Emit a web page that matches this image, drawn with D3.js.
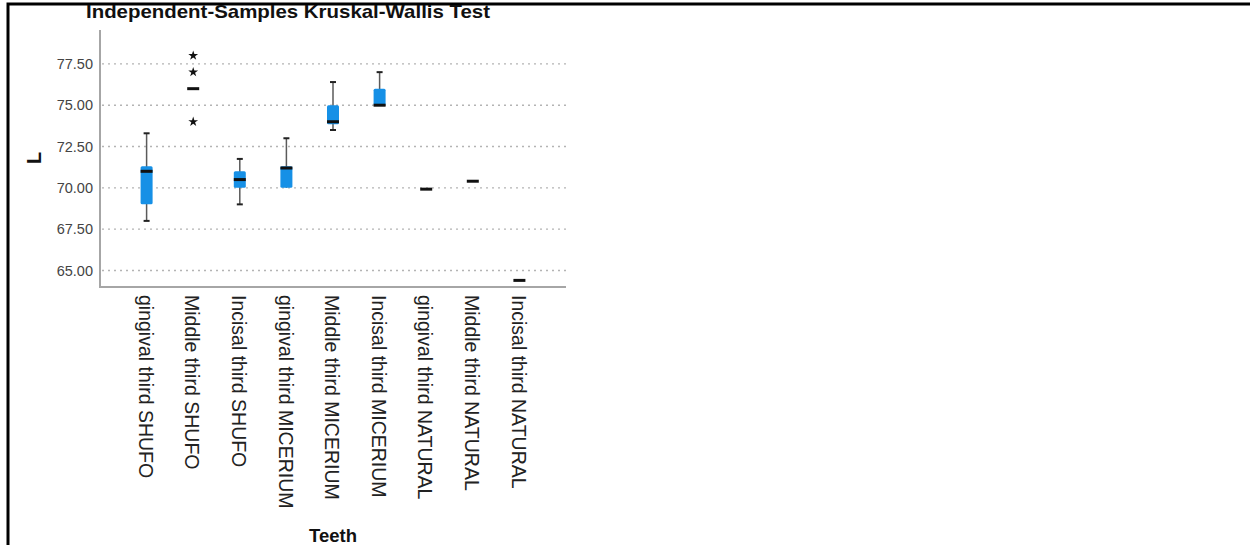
<!DOCTYPE html>
<html>
<head>
<meta charset="utf-8">
<script src="https://cdn.jsdelivr.net/npm/d3@7"></script>
<style>
  html, body { margin: 0; padding: 0; background: #fff; }
  svg { display: block; }
  text { font-family: "Liberation Sans", Arial, sans-serif; }
</style>
</head>
<body>
<svg id="chart" width="1250" height="545"></svg>
<script>
// Groups of teeth (region x material)
const categories = [
  "gingival third SHUFO", "Middle third SHUFO", "Incisal third SHUFO",
  "gingival third MICERIUM", "Middle third MICERIUM", "Incisal third MICERIUM",
  "gingival third NATURAL", "Middle third NATURAL", "Incisal third NATURAL"
];
// Five-number summaries of L for each group
const mins    = [68.0, 76.0, 69.0, 70.0, 73.5, 75.0, 69.92, 70.4, 64.4];
const q1s     = [69.0, 76.0, 70.0, 70.0, 73.85, 75.0, 69.92, 70.4, 64.4];
const medians = [71.0, 76.0, 70.5, 71.2, 74.0, 75.0, 69.92, 70.4, 64.4];
const q3s     = [71.3, 76.0, 71.0, 71.3, 75.0, 76.0, 69.92, 70.4, 64.4];
const maxs    = [73.3, 76.0, 71.75, 73.0, 76.4, 77.0, 69.92, 70.4, 64.4];
// Extreme values plotted as stars
const extremes = [[], [78.0, 77.0, 74.0], [], [], [], [], [], [], []];

const yTicks = [65, 67.5, 70, 72.5, 75, 77.5];

const svg = d3.select("#chart");

// outer frame (top and left edges)
svg.append("path")
  .attr("d", "M8,545 V4 H1250")
  .attr("fill", "none").attr("stroke", "#000").attr("stroke-width", 3);

const plot = { left: 100, right: 566, top: 30, bottom: 287 };

const x = d3.scalePoint().domain(categories)
  .range([plot.left, plot.right]).padding(1);
const y = d3.scaleLinear().domain([64.0, 79.55])
  .range([plot.bottom, plot.top]);

// dotted gridlines
svg.append("g").selectAll("line").data(yTicks).join("line")
  .attr("x1", plot.left + 2).attr("x2", plot.right)
  .attr("y1", d => y(d)).attr("y2", d => y(d))
  .attr("stroke", "#b4b4b4").attr("stroke-width", 1.4)
  .attr("stroke-dasharray", "2,4");

// y axis
const yAxis = d3.axisLeft(y).tickValues(yTicks)
  .tickFormat(d3.format(".2f")).tickSize(0).tickPadding(7);
const gy = svg.append("g").attr("transform", `translate(${plot.left},0)`).call(yAxis);
gy.select(".domain").remove();
gy.selectAll("text").attr("font-size", 14.5).attr("fill", "#444");

// x axis (labels only)
const xAxis = d3.axisBottom(x).tickSize(0);
const gx = svg.append("g").attr("transform", `translate(0,${plot.bottom})`).call(xAxis);
gx.select(".domain").remove();
gx.selectAll("text")
  .attr("transform", "rotate(90)")
  .attr("x", 8).attr("y", 2)
  .attr("dy", "0.32em")
  .attr("text-anchor", "start")
  .attr("font-size", 19.5)
  .attr("fill", "#222");

// axis lines
svg.append("path")
  .attr("d", `M${plot.left},${plot.top} V${plot.bottom} H${plot.right}`)
  .attr("fill", "none").attr("stroke", "#a6a6a6").attr("stroke-width", 2);

// boxplots
const bw = 12, capW = 6;
const idx = d3.range(categories.length);
const g = svg.append("g");

// whiskers
g.selectAll("line.whisker").data(idx.filter(i => maxs[i] > mins[i])).join("line")
  .attr("class", "whisker")
  .attr("x1", i => x(categories[i])).attr("x2", i => x(categories[i]))
  .attr("y1", i => y(maxs[i])).attr("y2", i => y(mins[i]))
  .attr("stroke", "#5a5a5a").attr("stroke-width", 1.5);

// whisker caps
const caps = [];
idx.forEach(i => {
  if (maxs[i] > q3s[i]) caps.push([i, maxs[i]]);
  if (mins[i] < q1s[i]) caps.push([i, mins[i]]);
});
g.selectAll("line.cap").data(caps).join("line")
  .attr("class", "cap")
  .attr("x1", d => x(categories[d[0]]) - capW / 2)
  .attr("x2", d => x(categories[d[0]]) + capW / 2)
  .attr("y1", d => y(d[1])).attr("y2", d => y(d[1]))
  .attr("stroke", "#222").attr("stroke-width", 2);

// boxes
g.selectAll("rect.box").data(idx.filter(i => q3s[i] > q1s[i])).join("rect")
  .attr("class", "box")
  .attr("x", i => x(categories[i]) - bw / 2)
  .attr("width", bw)
  .attr("y", i => y(q3s[i]))
  .attr("height", i => y(q1s[i]) - y(q3s[i]))
  .attr("rx", 1.5)
  .attr("fill", "#1690e6");

// medians
g.selectAll("line.median").data(idx).join("line")
  .attr("class", "median")
  .attr("x1", i => x(categories[i]) - bw / 2)
  .attr("x2", i => x(categories[i]) + bw / 2)
  .attr("y1", i => y(medians[i])).attr("y2", i => y(medians[i]))
  .attr("stroke", "#111").attr("stroke-width", 3);

// extreme values
const ext = [];
idx.forEach(i => extremes[i].forEach(v => ext.push([i, v])));
g.selectAll("path.extreme").data(ext).join("path")
  .attr("class", "extreme")
  .attr("transform", d => `translate(${x(categories[d[0]])},${y(d[1])})`)
  .attr("d", d3.symbol(d3.symbolStar, 30))
  .attr("fill", "#111");

// titles
svg.append("text")
  .attr("x", 86).attr("y", 18)
  .attr("font-size", 19).attr("font-weight", "bold").attr("fill", "#111")
  .attr("textLength", 404).attr("lengthAdjust", "spacingAndGlyphs")
  .text("Independent-Samples Kruskal-Wallis Test");

svg.append("text")
  .attr("transform", `translate(34,158) rotate(-90)`)
  .attr("text-anchor", "middle").attr("dy", "0.35em")
  .attr("font-size", 20).attr("font-weight", "bold").attr("fill", "#111")
  .text("L");

svg.append("text")
  .attr("x", 333).attr("y", 542)
  .attr("text-anchor", "middle")
  .attr("font-size", 18.5).attr("font-weight", "bold").attr("fill", "#111")
  .text("Teeth");
</script>
</body>
</html>
